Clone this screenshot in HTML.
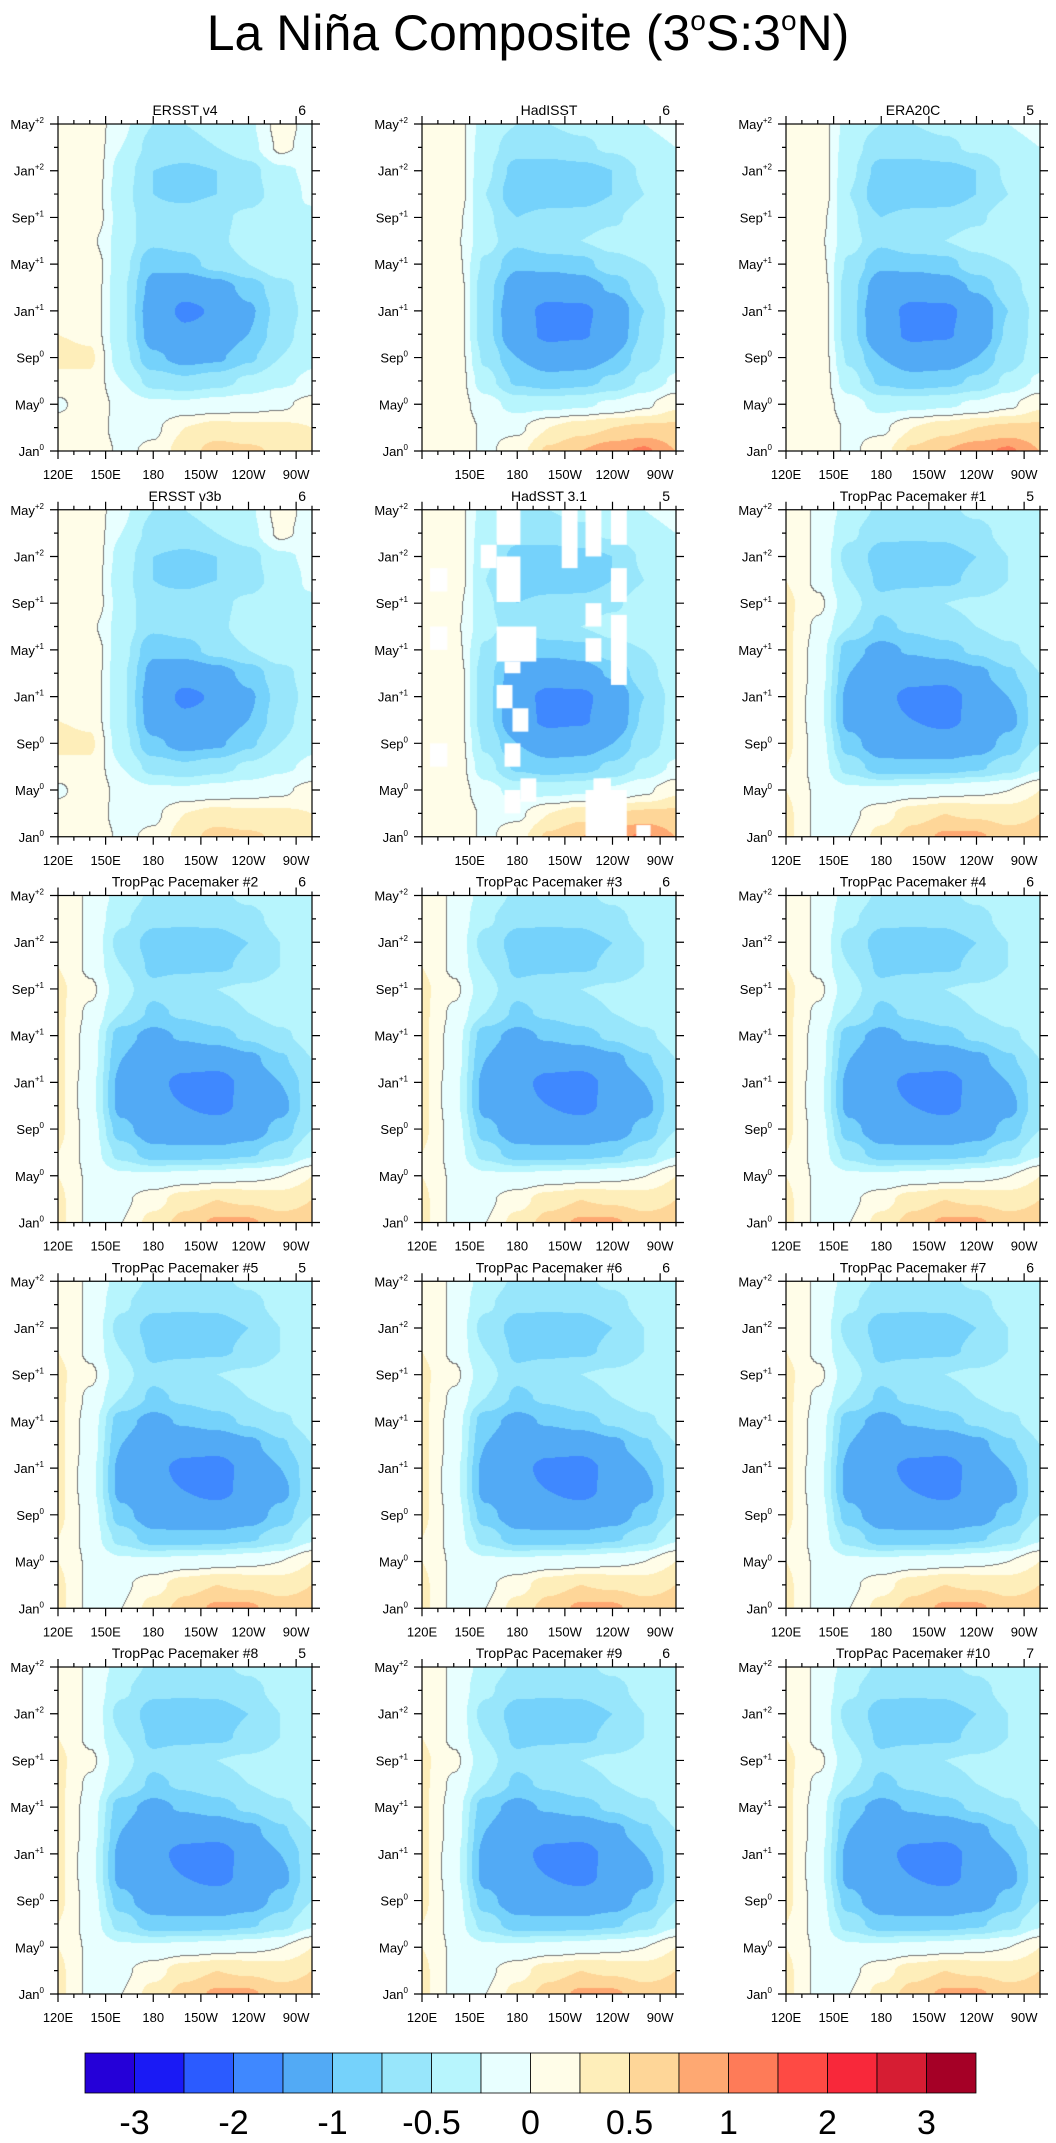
<!DOCTYPE html>
<html><head><meta charset="utf-8">
<style>
html,body{margin:0;padding:0;background:#fff;}
#wrap{position:relative;width:1056px;height:2143px;overflow:hidden;}
canvas,svg{position:absolute;left:0;top:0;}
text{font-family:"Liberation Sans",sans-serif;}
</style></head>
<body>
<div id="wrap">
<canvas id="cv" width="1056" height="2143"></canvas>
<svg id="sv" width="1056" height="2143" xmlns="http://www.w3.org/2000/svg">
<text x="528" y="50" text-anchor="middle" font-size="50">La Niña Composite (3<tspan font-size="28" dy="-20">o</tspan><tspan dy="20">S:3</tspan><tspan font-size="28" dy="-20">o</tspan><tspan dy="20">N)</tspan></text>
</svg>
</div>
<script>
// ---- data ----
const lonCols = [120,140,160,180,200,220,240,260,280];
const monthRows = [0,2,4,6,8,10,12,14,16,18,20,22,24,26,28];
const levels = [-3,-2.5,-2,-1.5,-1,-0.75,-0.5,-0.25,0,0.25,0.5,0.75,1,1.5,2,2.5,3];
const colors = ["#2500d8","#1a1af5","#2b5bff","#3f88ff","#52aaf5","#75d2fb","#98e6fb","#b7f5fd","#e8ffff","#fffde8","#feeeba","#fed698","#fea872","#fe7b58","#fe4a44","#f8283a","#d61d33","#a50026"];
const cbLabels = ["-3","-2","-1","-0.5","0","0.5","1","2","3"];
const xTickLabels = ["120E","150E","180","150W","120W","90W"];
const xTickLons = [120,150,180,210,240,270];
const yTickNames = ["Jan","May","Sep","Jan","May","Sep","Jan","May"];
const yTickSups = ["0","0","0","+1","+1","+1","+2","+2"];
const yTickMonths = [0,4,8,12,16,20,24,28];
const panelTitles = ["ERSST v4","HadISST","ERA20C","ERSST v3b","HadSST 3.1","TropPac Pacemaker #1","TropPac Pacemaker #2","TropPac Pacemaker #3","TropPac Pacemaker #4","TropPac Pacemaker #5","TropPac Pacemaker #6","TropPac Pacemaker #7","TropPac Pacemaker #8","TropPac Pacemaker #9","TropPac Pacemaker #10"];
const panelCounts = ["6","6","5","6","5","5","6","6","6","5","6","6","5","6","7"];
const panelField = ["ersst","hadisst","hadisst","ersst","hadisst","pace","pace","pace","pace","pace","pace","pace","pace","pace","pace"];
const fieldErsst = [
[0.15,0.2,-0.05,0.05,0.4,0.6,0.55,0.45,0.35],
[0.15,0.15,-0.1,-0.05,0.25,0.35,0.3,0.3,0.25],
[-0.05,0.2,-0.1,-0.2,-0.2,-0.15,-0.1,-0.05,0.1],
[0.15,0.2,-0.25,-0.6,-0.7,-0.6,-0.45,-0.3,-0.2],
[0.35,0.3,-0.4,-0.95,-1.1,-1.05,-0.8,-0.5,-0.3],
[0.25,0.2,-0.45,-1.15,-1.4,-1.3,-1.0,-0.6,-0.35],
[0.0,0.2,-0.45,-1.2,-1.6,-1.45,-1.05,-0.65,-0.4],
[0.25,0.2,-0.45,-1.1,-1.3,-1.15,-0.9,-0.6,-0.35],
[0.15,0.2,-0.4,-0.95,-0.85,-0.65,-0.5,-0.3,-0.35],
[0.1,0.05,-0.35,-0.7,-0.65,-0.55,-0.4,-0.3,-0.3],
[0.05,0.2,-0.35,-0.7,-0.65,-0.55,-0.45,-0.3,-0.3],
[0.05,0.2,-0.4,-0.75,-0.8,-0.75,-0.6,-0.4,-0.2],
[0.05,0.2,-0.35,-0.75,-0.8,-0.75,-0.6,-0.3,-0.2],
[0.15,0.2,-0.25,-0.6,-0.6,-0.5,-0.35,0.05,-0.1],
[0.15,0.2,-0.2,-0.5,-0.5,-0.4,-0.3,0.1,-0.1]];
const fieldHadisst = [
[0.15,0.2,-0.05,0.15,0.55,0.75,0.9,1.05,0.75],
[0.15,0.2,-0.05,-0.05,0.25,0.4,0.5,0.55,0.55],
[0.15,0.15,-0.15,-0.35,-0.35,-0.3,-0.2,-0.05,0.2],
[0.2,0.2,-0.4,-0.8,-0.9,-0.85,-0.7,-0.45,-0.2],
[0.25,0.2,-0.55,-1.0,-1.2,-1.2,-1.0,-0.6,-0.4],
[0.25,0.2,-0.65,-1.3,-1.6,-1.55,-1.3,-0.7,-0.4],
[0.25,0.2,-0.65,-1.35,-1.6,-1.6,-1.3,-0.75,-0.4],
[0.25,0.2,-0.65,-1.2,-1.3,-1.2,-0.95,-0.6,-0.35],
[0.2,0.1,-0.55,-0.95,-0.9,-0.85,-0.6,-0.5,-0.35],
[0.15,0.05,-0.4,-0.7,-0.55,-0.5,-0.4,-0.3,-0.3],
[0.15,0.1,-0.45,-0.75,-0.65,-0.65,-0.55,-0.35,-0.3],
[0.15,0.2,-0.5,-0.95,-0.95,-0.9,-0.75,-0.5,-0.3],
[0.15,0.2,-0.45,-0.85,-0.9,-0.85,-0.75,-0.45,-0.3],
[0.15,0.15,-0.4,-0.65,-0.6,-0.55,-0.45,-0.3,-0.25],
[0.15,0.15,-0.35,-0.5,-0.5,-0.45,-0.4,-0.25,-0.2]];
const fieldPace = [
[0.3,-0.05,0.0,0.35,0.6,0.8,0.8,0.6,0.6],
[0.3,-0.05,-0.05,0.15,0.4,0.5,0.45,0.4,0.5],
[0.25,-0.05,-0.2,-0.2,-0.15,-0.1,-0.05,0.0,0.25],
[0.25,-0.1,-0.6,-0.9,-0.9,-0.9,-0.8,-0.6,-0.3],
[0.3,-0.1,-0.9,-1.2,-1.3,-1.3,-1.2,-0.9,-0.5],
[0.3,-0.15,-1.1,-1.4,-1.5,-1.6,-1.4,-1.1,-0.6],
[0.3,-0.15,-1.1,-1.4,-1.6,-1.7,-1.35,-1.0,-0.6],
[0.3,-0.1,-1.0,-1.3,-1.35,-1.3,-1.1,-0.8,-0.5],
[0.3,-0.1,-0.9,-1.1,-0.95,-0.85,-0.7,-0.55,-0.4],
[0.3,-0.05,-0.5,-0.8,-0.7,-0.6,-0.5,-0.4,-0.35],
[0.3,0.05,-0.4,-0.7,-0.6,-0.5,-0.45,-0.4,-0.3],
[0.25,-0.05,-0.5,-0.8,-0.8,-0.8,-0.7,-0.5,-0.3],
[0.25,-0.05,-0.6,-0.85,-0.9,-0.85,-0.75,-0.5,-0.3],
[0.25,-0.05,-0.45,-0.7,-0.7,-0.7,-0.6,-0.4,-0.25],
[0.25,-0.05,-0.35,-0.55,-0.55,-0.55,-0.45,-0.3,-0.25]];
// HadSST 3.1 missing-data boxes: [lonMin, lonMax, monthMin, monthMax]
const hadsstMissing = [
[167,182,25,28],[208,218,23,28],[223,233,24,28],[239,249,25,28],[157,167,23,25],
[167,182,20.1,24],[125,136,21,23],[239,249,20.1,23],[223,233,18,20],[239,249,13,19],
[125,136,16,18],[167,192,15,18],[172,182,14,15],[223,233,15,17],[167,177,11,13],
[177,187,9,11],[125,136,6,8],[172,182,6,8],[182,192,3,5],[172,182,2,4],
[228,239,1,5],[223,249,0,4],[255,264,0,1]];

// ---- layout ----
const colX = [58,422,786];
const rowY0 = 124, rowStep = 385.75;
const PW = 254, PH = 327;
const LON0 = 120, LON1 = 280, M1 = 28;
const fields = {ersst: fieldErsst, hadisst: fieldHadisst, pace: fieldPace};

function xScale(x0, lon){ return x0 + (lon - LON0) / (LON1 - LON0) * PW; }
function yScale(y0, m){ return y0 + PH - m / M1 * PH; }
function sample(f, lon, m){
  let ci = (lon - lonCols[0]) / (lonCols[1]-lonCols[0]);
  let ri = (m - monthRows[0]) / (monthRows[1]-monthRows[0]);
  ci = Math.max(0, Math.min(lonCols.length-1.0001, ci));
  ri = Math.max(0, Math.min(monthRows.length-1.0001, ri));
  const c = Math.floor(ci), r = Math.floor(ri);
  let fx = ci - c, fy = ri - r;
  fx = fx*fx*(3-2*fx); fy = fy*fy*(3-2*fy);
  const a = f[r][c], b = f[r][c+1], d = f[r+1][c], e = f[r+1][c+1];
  return (a*(1-fx)+b*fx)*(1-fy) + (d*(1-fx)+e*fx)*fy;
}
function binIndex(v){ let i=0; while(i<levels.length && v>=levels[i]) i++; return i; }
function hex(h){ return [parseInt(h.substr(1,2),16),parseInt(h.substr(3,2),16),parseInt(h.substr(5,2),16)]; }
const rgb = colors.map(hex);

const ctx = document.getElementById('cv').getContext('2d');
const svg = document.getElementById('sv');
const NS = "http://www.w3.org/2000/svg";
function mk(tag, attrs){ const e=document.createElementNS(NS,tag); for(const k in attrs) e.setAttribute(k, attrs[k]); return e; }

for(let p=0;p<15;p++){
  const col = p%3, row = Math.floor(p/3);
  const x0 = colX[col], y0 = rowY0 + row*rowStep;
  const f = fields[panelField[p]];
  const W = PW, H = Math.round(PH);
  const img = ctx.createImageData(W, H);
  const vals = new Float32Array(W*H);
  for(let j=0;j<H;j++) for(let i=0;i<W;i++){
    const lon = LON0 + (i+0.5)/W*(LON1-LON0);
    const m = M1*(1-(j+0.5)/H);
    vals[j*W+i] = sample(f, lon, m);
  }
  for(let j=0;j<H;j++) for(let i=0;i<W;i++){
    const v = vals[j*W+i];
    let c = rgb[binIndex(v)];
    const s = v>=0;
    const line = (i>0 && (vals[j*W+i-1]>=0)!==s) || (j>0 && (vals[(j-1)*W+i]>=0)!==s);
    if(line) c=[120,120,120];
    const k=(j*W+i)*4; img.data[k]=c[0]; img.data[k+1]=c[1]; img.data[k+2]=c[2]; img.data[k+3]=255;
  }
  ctx.putImageData(img, x0, Math.round(y0));
  if(panelTitles[p]==="HadSST 3.1"){
    ctx.fillStyle="#fff";
    hadsstMissing.forEach(b=>{
      const xa=xScale(x0,b[0]), xb=xScale(x0,b[1]), ya=yScale(y0,b[3]), yb=yScale(y0,b[2]);
      ctx.fillRect(xa, ya, xb-xa, yb-ya);
    });
  }

  const g = mk('g',{});
  
  
  svg.appendChild(g);
  const frame = mk('rect',{x:x0,y:y0,width:PW,height:PH,fill:'none',stroke:'#000','stroke-width':1.2});
  
  
  g.appendChild(frame);
  const t = mk('text',{x:x0+PW/2,y:y0-9,'text-anchor':'middle','font-size':14});
  t.textContent = panelTitles[p];
  
  
  g.appendChild(t);
  const n = mk('text',{x:x0+PW-6,y:y0-9,'text-anchor':'end','font-size':14});
  n.textContent = panelCounts[p];
  
  
  g.appendChild(n);
  let d='';
  for(let lon=120; lon<=280; lon+=10){
    const x=xScale(x0,lon); const major = xTickLons.indexOf(lon)>=0; const L = major?8:4;
    d+=`M${x},${y0}v${-L}M${x},${y0+PH}v${L}`;
  }
  for(let m=0;m<=28;m+=2){
    const y=yScale(y0,m); const major = yTickMonths.indexOf(m)>=0; const L=major?8:4;
    d+=`M${x0},${y}h${-L}M${x0+PW},${y}h${L}`;
  }
  const ticks = mk('path',{d:d,stroke:'#000','stroke-width':1.2,fill:'none'});
  
  
  g.appendChild(ticks);
  for(let k=0;k<xTickLabels.length;k++){
    if(col===1 && row<2 && k===0) continue;
    const tl = mk('text',{x:xScale(x0,xTickLons[k]),y:y0+PH+28,'text-anchor':'middle','font-size':13});
    tl.textContent = xTickLabels[k];
    
    
    g.appendChild(tl);
  }
  for(let k=0;k<yTickNames.length;k++){
    const yl = mk('text',{x:x0-14,y:yScale(y0,yTickMonths[k])+5,'text-anchor':'end','font-size':13});
    yl.innerHTML = yTickNames[k] + '<tspan font-size="8" dy="-6">' + yTickSups[k] + '</tspan>';
    
    
    g.appendChild(yl);
  }
}

// ---- colorbar ----
const cbX = 85, cbW = 891, cbY = 2053, cbH = 40;
const cbg = mk('g',{});


svg.appendChild(cbg);
const bw = cbW/colors.length;
colors.forEach((c,i)=>{
  const r = mk('rect',{x:cbX+i*bw,y:cbY,width:bw,height:cbH,fill:c,stroke:'#000','stroke-width':0.8});
  
  
  cbg.appendChild(r);
});
const cbLabelIdx = [1,3,5,7,9,11,13,15,17];
cbLabels.forEach((s,i)=>{
  const tx = mk('text',{x:cbX+cbLabelIdx[i]*bw,y:2134,'text-anchor':'middle','font-size':34});
  tx.textContent = s;
  
  
  cbg.appendChild(tx);
});
</script>
</body></html>
